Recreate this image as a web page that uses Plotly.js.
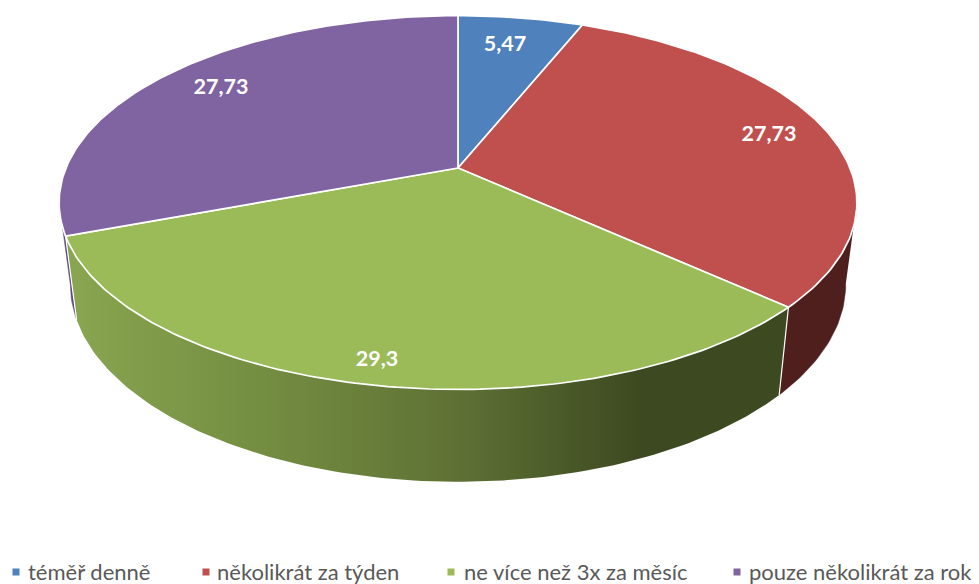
<!DOCTYPE html>
<html>
<head>
<meta charset="utf-8">
<script src="https://cdn.plot.ly/plotly-3.0.1.min.js"></script>
<style>html,body{margin:0;padding:0;background:#fff}</style>
</head>
<body>
<div id="chart" style="width:979px;height:584px"></div>
<script>
const categories = ["téměř denně", "několikrát za týden", "ne více než 3x za měsíc", "pouze několikrát za rok"];
const values = [5.47, 27.73, 29.3, 27.73];
const topColors = ["#4f81bd", "#c0504d", "#9bbb59", "#8064a2"];
const wallColors = ["#2b4567", "#4f1f1e", "#5e7134", "#5f4a80"];

// pixel placement of the value labels and legend entries
const labelX = [505, 769, 377, 221];
const labelY = [46, 136, 361, 89];
const legendMarkerX = [16, 206, 451, 737];
const legendTextX = [28, 217, 464, 749];
const legendMarkerY = 572;
const legendTextY = 574;

// perspective projection of the pie disc, fitted to the picture
const K = 0.185;
const topDisc = { cx: 458, cy: 168, a: 392, b: 180.5 };
const lowDisc = { cx: 458, cy: 248, a: 381, b: 190.5 };

function project(disc, deg) {
  const t = deg * Math.PI / 180;
  const w = 1 + K * Math.cos(t);
  return [disc.cx + disc.a * Math.sin(t) / w, disc.cy - disc.b * Math.cos(t) / w];
}

function arc(disc, from, to) {
  const n = Math.max(2, Math.ceil(Math.abs(to - from)));
  const pts = [];
  for (let i = 0; i <= n; i++) pts.push(project(disc, from + (to - from) * i / n));
  return pts;
}

function polygon(pts, fill, lineColor, lineWidth) {
  return {
    x: pts.map(p => p[0]), y: pts.map(p => p[1]),
    type: "scatter", mode: "lines", fill: "toself", fillcolor: fill,
    line: { color: lineColor, width: lineWidth },
    hoverinfo: "skip", showlegend: false,
  };
}

const total = values.reduce((s, v) => s + v, 0);
const edges = [0];
values.forEach(v => edges.push(edges[edges.length - 1] + v / total * 360));

// angles where the rim turns away from the viewer
const sideR = Math.acos(-K) * 180 / Math.PI;
const sideL = 360 - sideR;

function wall(from, to) {
  return arc(topDisc, from, to).concat(arc(lowDisc, to, from));
}

const traces = [];

// walls first, the top surface is painted over them
traces.push(polygon(wall(edges[3], sideL), wallColors[3], wallColors[3], 0.5));
traces.push(polygon(wall(sideR, edges[2]), wallColors[1], wallColors[1], 0.5));

const greenWall = polygon(wall(edges[2], edges[3]), wallColors[2], "rgba(0,0,0,0)", 0);
greenWall.fillgradient = {
  type: "horizontal", start: 75, stop: 640,
  colorscale: [[0, "#88a550"], [0.31, "#758f42"], [0.68, "#5e7134"], [1, "#3d4920"]],
};
traces.push(greenWall);

// white seams where the slices meet on the wall
[edges[2], edges[3]].forEach(e => {
  const p = project(topDisc, e), q = project(lowDisc, e);
  traces.push({
    x: [p[0], q[0]], y: [p[1], q[1]], type: "scatter", mode: "lines",
    line: { color: "#ffffff", width: 1.2 }, hoverinfo: "skip", showlegend: false,
  });
});

// top surface
values.forEach((v, i) => {
  const pts = [[topDisc.cx, topDisc.cy]].concat(arc(topDisc, edges[i], edges[i + 1]));
  pts.push([topDisc.cx, topDisc.cy]);
  traces.push(polygon(pts, topColors[i], "#ffffff", 1.7));
});

// value labels
traces.push({
  x: labelX, y: labelY, type: "scatter", mode: "text",
  text: values.map(v => String(v).replace(".", ",")),
  textposition: "middle center",
  textfont: { family: "Lato, sans-serif", size: 21.5, weight: 700, color: "#ffffff" },
  hoverinfo: "skip", showlegend: false, cliponaxis: false,
});

// legend along the bottom
traces.push({
  x: legendMarkerX, y: legendMarkerX.map(() => legendMarkerY), type: "scatter", mode: "markers",
  marker: { symbol: "square", size: 7, color: topColors },
  hoverinfo: "skip", showlegend: false, cliponaxis: false,
});
traces.push({
  x: legendTextX, y: legendTextX.map(() => legendTextY), type: "scatter", mode: "text",
  text: categories, textposition: "middle right",
  textfont: { family: "Lato, sans-serif", size: 22, color: "#595959" },
  hoverinfo: "skip", showlegend: false, cliponaxis: false,
});

const layout = {
  width: 979, height: 584,
  margin: { l: 0, r: 0, t: 0, b: 0 },
  paper_bgcolor: "#ffffff", plot_bgcolor: "#ffffff",
  xaxis: { range: [0, 979], visible: false, fixedrange: true },
  yaxis: { range: [584, 0], visible: false, fixedrange: true },
  showlegend: false,
};

Plotly.newPlot("chart", traces, layout, { displayModeBar: false, staticPlot: true });
</script>
</body>
</html>
